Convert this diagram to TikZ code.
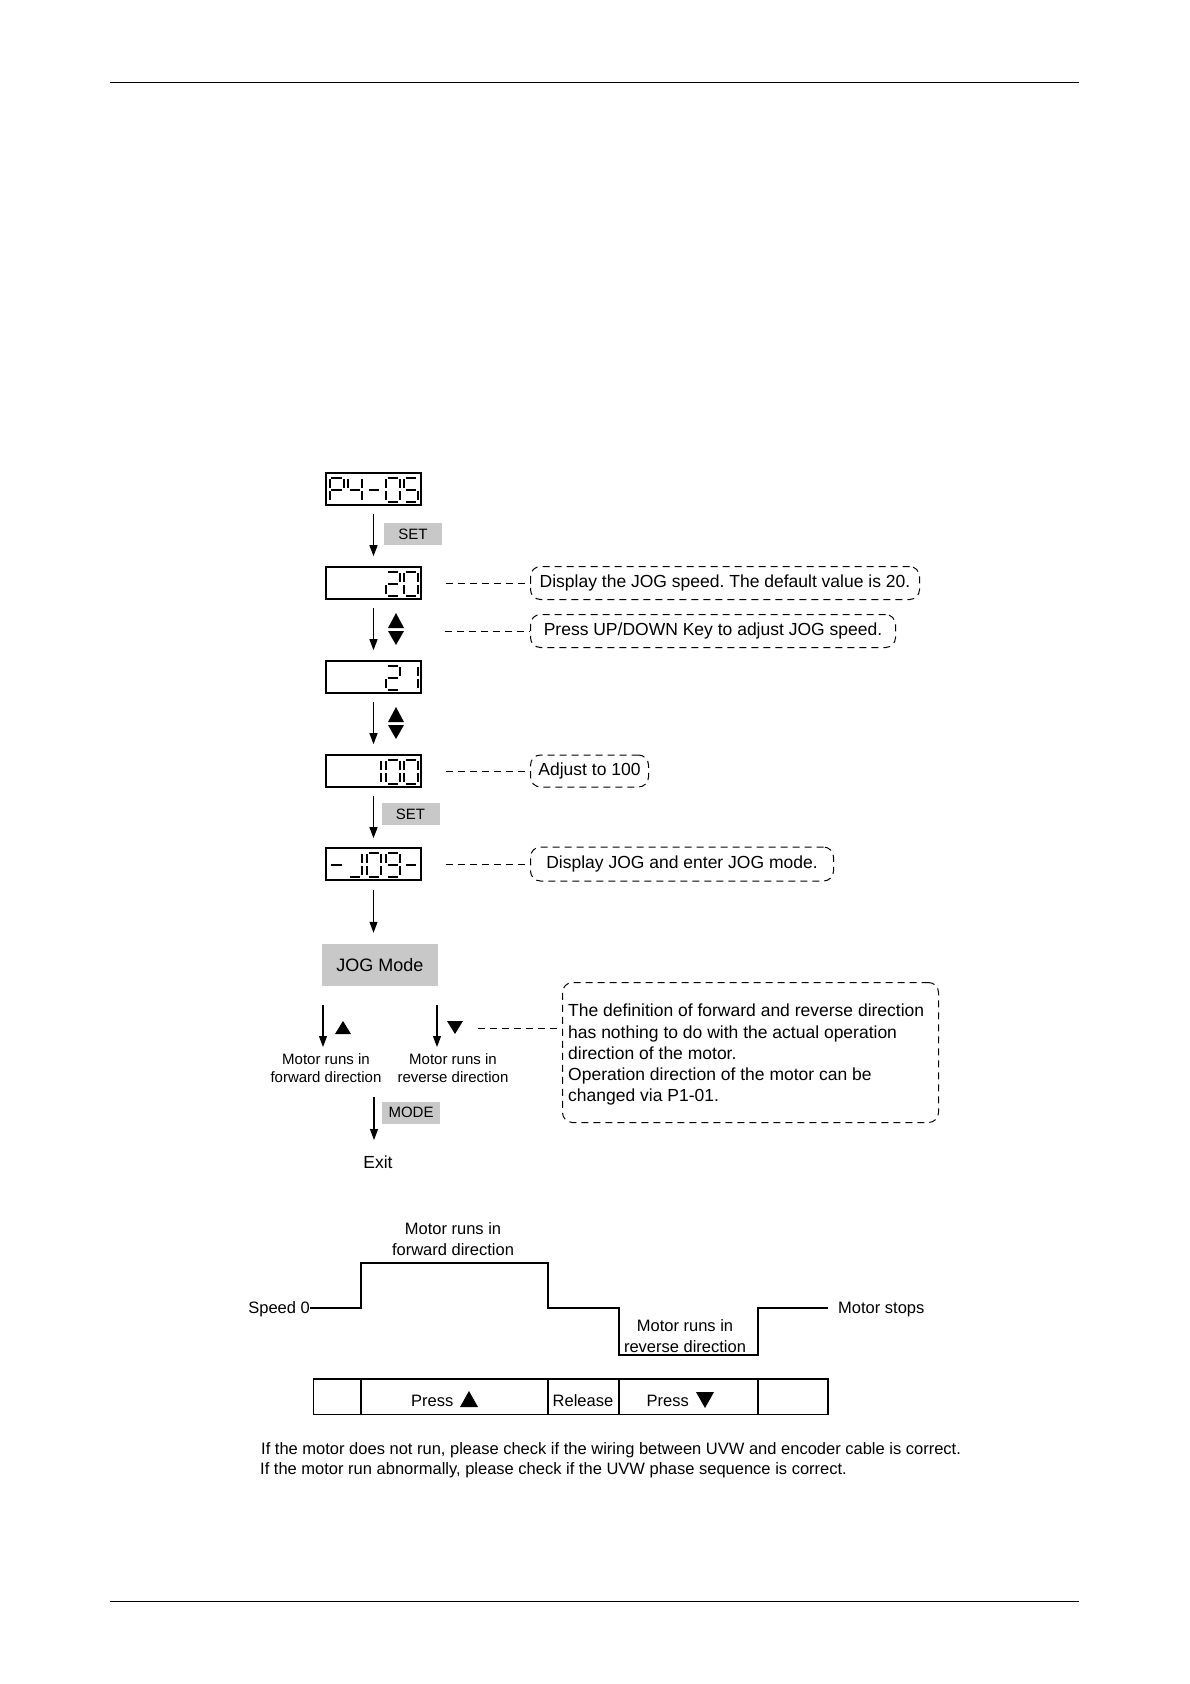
\documentclass[tikz,border=0pt]{standalone}
\usepackage{fontspec}
\setmainfont{Liberation Sans}
\usetikzlibrary{arrows.meta}
\frenchspacing
\definecolor{keygray}{RGB}{200,200,200}
\newcommand\SgA{\draw[segline] (1.9,0) -- (12.1,0);}
\newcommand\SgB{\draw[segline] (14,1.9) -- (14,10.3);}
\newcommand\SgC{\draw[segline] (14,13.7) -- (14,22.1);}
\newcommand\SgD{\draw[segline] (1.9,24) -- (12.1,24);}
\newcommand\SgE{\draw[segline] (0,13.7) -- (0,22.1);}
\newcommand\SgF{\draw[segline] (0,1.9) -- (0,10.3);}
\newcommand\SgG{\draw[segline] (1.9,12) -- (12.1,12);}
\newcommand\LcdDigit[3]{\begin{scope}[shift={(#1,#2)}]#3\end{scope}}
\tikzset{
  segline/.style={line width=2pt, line cap=butt},
  lcd/.style={draw, line width=1.6pt, minimum width=95pt, minimum height=32pt, inner sep=0pt},
  keybox/.style={fill=keygray, inner sep=0pt, minimum width=58pt, minimum height=22pt, font=\fontsize{15}{15}\selectfont},
  arr/.style={-{Triangle[length=11pt,width=8pt]}, line width=1.1pt},
  conn/.style={line width=1pt, dash pattern=on 7pt off 5pt},
  callout/.style={draw, line width=1pt, dash pattern=on 7pt off 5pt, rounded corners=10pt, inner sep=0pt, anchor=west, font=\fontsize{17.5}{21}\selectfont},
  small/.style={align=center, inner sep=0pt, font=\fontsize{15}{18}\selectfont},
  chart/.style={inner sep=0pt, font=\fontsize{16.5}{20.5}\selectfont},
  wave/.style={line width=1.5pt},
  tabline/.style={line width=1.2pt},
}
\begin{document}
\begin{tikzpicture}[x=1pt, y=-1pt]
\useasboundingbox (0,0) rectangle (1190,1684);
\fill[white] (0,0) rectangle (1190,1684);
% page rules
\draw[line width=0.8pt] (109.5,82.7) -- (1079.4,82.7);
\draw[line width=0.8pt] (109.5,1601.4) -- (1079.4,1601.4);

% displays
\node[lcd] (d1) at (373.5,489) {};
\LcdDigit{329.5}{477.5}{\SgA\SgB\SgE\SgF\SgG}
\LcdDigit{348.2}{477.5}{\SgB\SgC\SgF\SgG}
\LcdDigit{366.9}{477.5}{\SgG}
\LcdDigit{385.6}{477.5}{\SgA\SgB\SgC\SgD\SgE\SgF}
\LcdDigit{404.3}{477.5}{\SgA\SgC\SgD\SgF\SgG}

\node[lcd] (d2) at (373.5,583) {};
\LcdDigit{385.6}{571.5}{\SgA\SgB\SgD\SgE\SgG}
\LcdDigit{404.3}{571.5}{\SgA\SgB\SgC\SgD\SgE\SgF}

\node[lcd] (d3) at (373.5,677) {};
\LcdDigit{385.6}{665.5}{\SgA\SgB\SgD\SgE\SgG}
\LcdDigit{404.3}{665.5}{\SgB\SgC}

\node[lcd] (d4) at (373.5,771) {};
\LcdDigit{366.9}{759.5}{\SgB\SgC}
\LcdDigit{385.6}{759.5}{\SgA\SgB\SgC\SgD\SgE\SgF}
\LcdDigit{404.3}{759.5}{\SgA\SgB\SgC\SgD\SgE\SgF}

\node[lcd] (d5) at (373.5,864) {};
\LcdDigit{329.5}{852.5}{\SgG}
\LcdDigit{348.2}{852.5}{\SgB\SgC\SgD}
\LcdDigit{366.9}{852.5}{\SgA\SgB\SgC\SgD\SgE\SgF}
\LcdDigit{385.6}{852.5}{\SgA\SgB\SgC\SgD\SgF\SgG}
\LcdDigit{404.3}{852.5}{\SgG}

% key labels
\node[keybox] (set1) at (413,534) {SET};
\node[keybox] (set2) at (410.5,814) {SET};
\node[fill=keygray, inner sep=0pt, minimum width=116pt, minimum height=42pt, font=\fontsize{18}{18}\selectfont] (jog) at (380,965) {JOG Mode};

% arrows between displays
\draw[arr, shorten <=8pt, shorten >=10pt] (d1.south) -- (d2.north);
\draw[arr, shorten <=8pt, shorten >=10pt] (d2.south) -- (d3.north);
\draw[arr, shorten <=8pt, shorten >=10pt] (d3.south) -- (d4.north);
\draw[arr, shorten <=8pt, shorten >=9pt] (d4.south) -- (d5.north);
\draw[arr, shorten <=9pt, shorten >=11pt] (d5.south) -- (d5.south |- jog.north);

% up/down key triangles
\fill (388,628) -- (404,628) -- (396,613) -- cycle;
\fill (388,631) -- (404,631) -- (396,645) -- cycle;
\fill (388,722) -- (404,722) -- (396,707) -- cycle;
\fill (388,725) -- (404,725) -- (396,739) -- cycle;

% callouts
\node[callout, minimum width=389pt, minimum height=33pt] (c1) at (530,583) {Display the JOG speed. The default value is 20.};
\draw[conn] ([xshift=24pt]d2.east) -- (c1.west);
\node[callout, minimum width=365pt, minimum height=33pt] (c2) at (530,631) {Press UP/DOWN Key to adjust JOG speed.};
\coordinate (p2) at (445,631);
\draw[conn] (p2) -- (c2.west);
\node[callout, minimum width=118pt, minimum height=32pt] (c3) at (530,771) {Adjust to 100};
\draw[conn] ([xshift=24pt]d4.east) -- (c3.west);
\node[callout, minimum width=303pt, minimum height=34pt] (c4) at (530,864) {Display JOG and enter JOG mode.};
\draw[conn] ([xshift=24pt]d5.east) -- (c4.west);

% JOG mode branches
\coordinate (fa) at (323,1005);
\coordinate (ra) at (437,1005);
\node[small] (fwd) at (326,1068) {Motor runs in\\forward direction};
\node[small] (rev) at (453,1068) {Motor runs in\\reverse direction};
\draw[arr] (fa) -- (323,1047);
\draw[arr] (ra) -- (437,1047);
\fill (335,1034) -- (351,1034) -- (343,1021) -- cycle;
\fill (447,1021) -- (463,1021) -- (455,1034) -- cycle;

% note box
\node[draw, line width=1pt, dash pattern=on 7pt off 5pt, rounded corners=10pt, minimum width=376pt, minimum height=140pt, inner sep=0pt, anchor=north west] (note) at (562,982) {};
\node[anchor=north west, inner sep=0pt, align=left, font=\fontsize{17.5}{21.2}\selectfont] (notetxt) at (568,1004) {The definition of forward and reverse direction\\has nothing to do with the actual operation\\direction of the motor.\\Operation direction of the motor can be\\changed via P1-01.};
\coordinate (p3) at (478,1028);
\draw[conn] (p3) -- (p3 -| note.west);

% mode / exit
\node[keybox] (mode) at (411,1112.5) {MODE};
\node[inner sep=0pt, font=\fontsize{17.5}{17.5}\selectfont] (exit) at (378,1162) {Exit};
\coordinate (ma) at (374,1097);
\draw[arr] (ma) -- (374,1140);

% timing chart
\node[chart, anchor=east] (spd) at (310,1309) {Speed 0};
\node[chart, anchor=west] (stp) at (838,1310) {Motor stops};
\draw[wave] (spd.east |- 0,1308) -- (361,1308) |- (548,1263) |- (619,1308) |- (758,1355) |- (828,1308);
\node[chart, align=center] (fwdlbl) at (453,1239) {Motor runs in\\forward direction};
\node[chart, align=center] (revlbl) at (685,1336) {Motor runs in\\reverse direction};

% table
\draw[tabline] (313.6,1379) rectangle (828,1414.5);
\draw[tabline] (361,1379) -- (361,1414.5);
\draw[tabline] (548,1379) -- (548,1414.5);
\draw[tabline] (619,1379) -- (619,1414.5);
\draw[tabline] (758,1379) -- (758,1414.5);
\node[chart, anchor=west] (pu) at (411,1401) {Press};
\fill (460,1407) -- (478,1407) -- (469,1391) -- cycle;
\node[chart] (rel) at (583,1401) {Release};
\node[chart, anchor=west] (pd) at (646.5,1401) {Press};
\fill (696,1392) -- (714,1392) -- (705,1408) -- cycle;

% notes
\node[chart, anchor=west] (n1) at (261,1450) {If the motor does not run, please check if the wiring between UVW and encoder cable is correct.};
\node[chart, anchor=west] (n2) at (260,1470) {If the motor run abnormally, please check if the UVW phase sequence is correct.};
\end{tikzpicture}
\end{document}
